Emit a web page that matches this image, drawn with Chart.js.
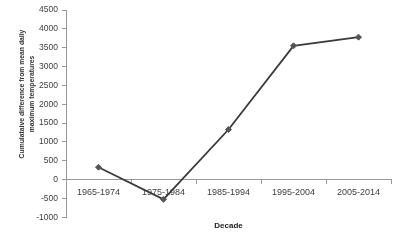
<!DOCTYPE html>
<html>
<head>
<meta charset="utf-8">
<script src="https://cdn.jsdelivr.net/npm/chart.js@4"></script>
<style>
  html, body { margin: 0; padding: 0; background: #fff; }
  #wrap { width: 400px; height: 241px; position: relative; }
</style>
</head>
<body>
<div id="wrap"><canvas id="chart"></canvas></div>
<script>
// data
const decades = ['1965-1974', '1975-1984', '1985-1994', '1995-2004', '2005-2014'];
const cumDiff = [330, -520, 1330, 3550, 3780];
const yTitleLines = ['Cumulataive difference from mean daily', 'maximum temperatures'];
const xTitle = 'Decade';

const FONT = "'Liberation Sans', Arial, sans-serif";

// y title drawn by hand so it sits where the original has it
const yTitlePlugin = {
  id: 'yTitle',
  afterDraw(chart) {
    const ctx = chart.ctx;
    ctx.save();
    ctx.translate(27, 94);
    ctx.rotate(-Math.PI / 2);
    ctx.font = "bold 6.8px " + FONT;
    ctx.fillStyle = '#333';
    ctx.textAlign = 'center';
    ctx.textBaseline = 'middle';
    ctx.fillText(yTitleLines[0], 0, -5);
    ctx.fillText(yTitleLines[1], 0, 5);
    ctx.restore();
  }
};

const ctx = document.getElementById('chart').getContext('2d');
new Chart(ctx, {
  type: 'line',
  data: {
    labels: decades,
    datasets: [{
      data: cumDiff,
      borderColor: '#3a3a3a',
      borderWidth: 1.8,
      pointStyle: 'rectRot',
      pointRadius: 3,
      pointBackgroundColor: '#555',
      pointBorderColor: '#555',
      pointBorderWidth: 1,
      tension: 0
    }]
  },
  options: {
    responsive: true,
    maintainAspectRatio: false,
    animation: false,
    layout: { padding: { top: 10, right: 9, left: 0, bottom: 0 } },
    plugins: {
      legend: { display: false },
      tooltip: { enabled: false },
      title: {
        display: true,
        position: 'bottom',
        fullSize: false,
        text: xTitle,
        color: '#222',
        font: { family: FONT, size: 8, weight: 'bold' },
        padding: { top: 4, bottom: 10 }
      }
    },
    scales: {
      x: {
        position: { y: 0 },
        offset: true,
        grid: {
          offset: true,
          drawOnChartArea: false,
          drawTicks: true,
          tickLength: 4,
          color: '#999'
        },
        border: { color: '#999', width: 1 },
        ticks: {
          color: '#404040',
          font: { family: FONT, size: 9 },
          padding: 3,
          maxRotation: 0,
          autoSkip: false
        }
      },
      y: {
        min: -1000,
        max: 4500,
        afterFit(s) { s.width = 66; },
        grid: {
          drawOnChartArea: false,
          drawTicks: true,
          tickLength: 4,
          color: '#999'
        },
        border: { color: '#999', width: 1 },
        ticks: {
          stepSize: 500,
          color: '#404040',
          font: { family: FONT, size: 8.5 },
          padding: 4,
          callback: (v) => String(v)
        }
      }
    }
  },
  plugins: [yTitlePlugin]
});
</script>
</body>
</html>
